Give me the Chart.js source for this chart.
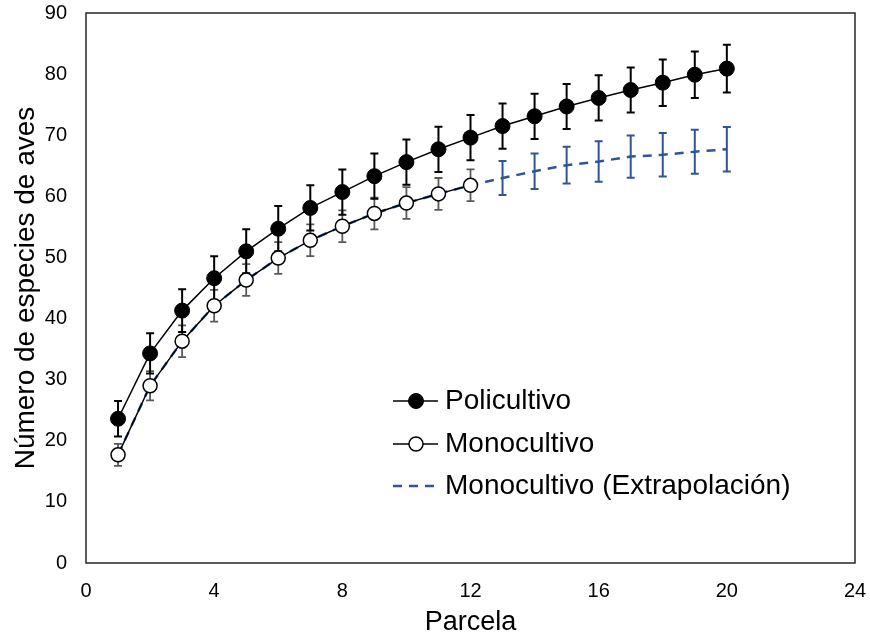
<!DOCTYPE html>
<html><head><meta charset="utf-8">
<script src="https://cdn.jsdelivr.net/npm/chart.js@4.4.0/dist/chart.umd.min.js"></script>
<style>html,body{margin:0;padding:0;background:#fff;}</style>
</head><body>
<canvas id="c" width="870" height="639"></canvas>
<script>
const parcelas = [1,2,3,4,5,6,7,8,9,10,11,12,13,14,15,16,17,18,19,20];
const policultivo = [23.6,34.3,41.3,46.6,51.0,54.7,58.1,60.7,63.3,65.6,67.7,69.6,71.5,73.1,74.7,76.1,77.4,78.6,79.9,80.9];
const policultivoErr = [2.9,3.3,3.5,3.6,3.6,3.7,3.7,3.7,3.7,3.7,3.7,3.7,3.7,3.7,3.7,3.7,3.7,3.8,3.8,3.9];
const monocultivo = [17.7,29.0,36.3,42.1,46.3,49.9,52.8,55.1,57.2,58.9,60.4,61.8];
const monocultivoErr = [1.8,2.4,2.6,2.6,2.6,2.6,2.6,2.6,2.6,2.6,2.6,2.6];
const extrapolacion = [17.7,29.0,36.3,42.1,46.3,49.9,52.8,55.1,57.2,58.9,60.4,61.8,63.0,64.1,65.1,65.7,66.5,66.8,67.3,67.7];
const extrapolacionErr = [null,null,null,null,null,null,null,null,null,null,null,null,2.8,2.9,3.0,3.3,3.45,3.55,3.6,3.65];
const xTicks = [0,4,8,12,16,20,24];
const yTicks = [0,10,20,30,40,50,60,70,80,90];
const labels = ['Policultivo','Monocultivo','Monocultivo (Extrapolación)'];

const FONT = "'Liberation Sans', Arial, sans-serif";
const toPts = (ys) => ys.map((y,i)=>({x:parcelas[i], y:y}));

const errorBars = {
  id:'errorBars',
  beforeDatasetsDraw(chart){
    const ctx = chart.ctx, xs = chart.scales.x, ys = chart.scales.y;
    const sets = [
      {vals:extrapolacion, err:extrapolacionErr, color:'#2F5597', w:2},
      {vals:monocultivo, err:monocultivoErr, color:'#595959', w:1.8},
      {vals:policultivo, err:policultivoErr, color:'#000000', w:2}
    ];
    ctx.save();
    sets.forEach(s=>{
      ctx.strokeStyle = s.color; ctx.lineWidth = s.w;
      s.vals.forEach((v,i)=>{
        const e = s.err[i];
        if (e == null) return;
        const px = xs.getPixelForValue(parcelas[i]);
        const t = ys.getPixelForValue(v+e), b = ys.getPixelForValue(v-e);
        ctx.beginPath();
        ctx.moveTo(px,t); ctx.lineTo(px,b);
        ctx.moveTo(px-4,t); ctx.lineTo(px+4,t);
        ctx.moveTo(px-4,b); ctx.lineTo(px+4,b);
        ctx.stroke();
      });
    });
    ctx.restore();
  }
};

const frame = {
  id:'frame',
  beforeDatasetsDraw(chart){
    const {ctx, chartArea:a} = chart;
    ctx.save();
    ctx.strokeStyle = '#262626'; ctx.lineWidth = 1.5;
    ctx.strokeRect(a.left, a.top, a.right-a.left, a.bottom-a.top);
    ctx.restore();
  }
};

const legendBox = {
  id:'legendBox',
  afterDraw(chart){
    const ctx = chart.ctx;
    const rows = [401, 444, 486];
    ctx.save();
    ctx.font = '28px ' + FONT;
    ctx.textBaseline = 'middle';
    ctx.fillStyle = '#000';
    chart.data.datasets.forEach((ds,i)=>{
      const y = rows[i];
      ctx.beginPath();
      ctx.strokeStyle = ds.borderColor; ctx.lineWidth = ds.borderWidth;
      ctx.setLineDash(ds.borderDash || []);
      ctx.moveTo(393,y); ctx.lineTo(438,y); ctx.stroke();
      ctx.setLineDash([]);
      if (ds.pointRadius > 0){
        ctx.beginPath();
        ctx.arc(416,y,ds.pointRadius,0,Math.PI*2);
        ctx.fillStyle = ds.pointBackgroundColor; ctx.fill();
        ctx.lineWidth = ds.pointBorderWidth; ctx.strokeStyle = ds.pointBorderColor; ctx.stroke();
      }
      ctx.fillStyle = '#000';
      ctx.fillText(ds.label, 445, y);
    });
    ctx.restore();
  }
};

new Chart(document.getElementById('c'), {
  type:'line',
  data:{
    datasets:[
      {label:labels[0], data:toPts(policultivo), borderColor:'#000', borderWidth:1.5,
       pointRadius:7.5, pointBackgroundColor:'#000', pointBorderColor:'#000', pointBorderWidth:1},
      {label:labels[1], data:toPts(monocultivo), borderColor:'#000', borderWidth:1.5,
       pointRadius:7, pointBackgroundColor:'#fff', pointBorderColor:'#000', pointBorderWidth:1.5},
      {label:labels[2], data:toPts(extrapolacion), borderColor:'#2F5597', borderWidth:2.5,
       borderDash:[9,7], pointRadius:0, pointBackgroundColor:'#2F5597', pointBorderColor:'#2F5597', pointBorderWidth:0}
    ]
  },
  options:{
    responsive:false, animation:false, devicePixelRatio:1,
    layout:{padding:{top:13,right:15,left:0,bottom:0}},
    plugins:{legend:{display:false}, tooltip:{enabled:false}},
    scales:{
      x:{type:'linear', min:0, max:24,
         afterBuildTicks(s){ s.ticks = xTicks.map(v=>({value:v})); },
         ticks:{font:{family:FONT,size:20}, color:'#000', padding:16},
         grid:{display:false, drawTicks:false}, border:{display:false},
         title:{display:true, text:'Parcela', color:'#000', font:{family:FONT,size:27}, padding:{top:0,bottom:0}},
         afterFit(s){ s.height = 76; s.paddingLeft = 0; s.paddingRight = 0; }},
      y:{type:'linear', min:0, max:90,
         afterBuildTicks(s){ s.ticks = yTicks.map(v=>({value:v})); },
         ticks:{font:{family:FONT,size:20}, color:'#000', padding:19},
         grid:{display:false, drawTicks:false}, border:{display:false},
         title:{display:true, text:'Número de especies de aves', color:'#000', font:{family:FONT,size:28}, padding:{top:9,bottom:0}},
         afterFit(s){ s.width = 86; s.paddingTop = 0; s.paddingBottom = 0; }}
    }
  },
  plugins:[frame, errorBars, legendBox]
});
</script>
</body></html>
